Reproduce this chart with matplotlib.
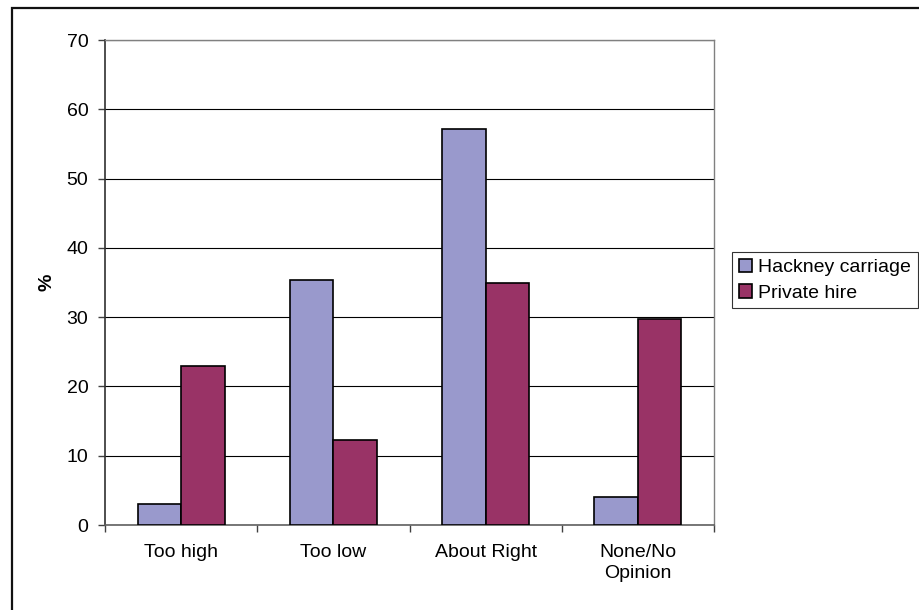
import matplotlib
matplotlib.use("Agg")
import matplotlib.pyplot as plt
import numpy as np
from matplotlib.patches import Rectangle

categories = ["Too high", "Too low", "About Right", "None/No\nOpinion"]
hackney = [3.1, 35.4, 57.2, 4.0]
private_hire = [22.9, 12.3, 34.9, 29.8]
series_names = ["Hackney carriage", "Private hire"]
y_ticks = [0, 10, 20, 30, 40, 50, 60, 70]

plt.rcParams["font.family"] = ["Liberation Sans", "DejaVu Sans"]

fig = plt.figure(figsize=(9.19, 6.10), dpi=100)
fig.patch.set_facecolor("white")

# outer chart border (left and top edges visible)
fig.add_artist(Rectangle((12 / 919, -0.05), 1.2, 1 - 8 / 610 + 0.05,
                         transform=fig.transFigure, fill=False,
                         edgecolor="#111111", linewidth=1.6))

ax = fig.add_axes([105 / 919, 85 / 610, 609 / 919, 485 / 610])

x = np.arange(len(categories))
w = 0.285
ax.bar(x - w / 2, hackney, w, color="#9999CC", edgecolor="black",
       linewidth=1.2, label=series_names[0], zorder=3)
ax.bar(x + w / 2, private_hire, w, color="#993366", edgecolor="black",
       linewidth=1.2, label=series_names[1], zorder=3)

ax.set_xlim(-0.5, len(categories) - 0.5)
ax.set_ylim(0, 70)
ax.set_yticks(y_ticks)
ax.set_yticklabels([str(v) for v in y_ticks], fontsize=14)
ax.yaxis.grid(True, color="black", linewidth=0.8, zorder=0)
ax.set_axisbelow(True)

# category labels centered, tick marks at category boundaries
ax.set_xticks(x)
ax.set_xticklabels(categories, fontsize=14, linespacing=1.25)
ax.tick_params(axis="x", which="major", length=0, pad=14)
ax.set_xticks(np.arange(-0.5, len(categories)), minor=True)
ax.tick_params(axis="x", which="minor", length=5, width=1.0, color="#404040",
               direction="out")
ax.tick_params(axis="y", length=5, width=1.0, color="#404040", pad=7,
               direction="out")

for side in ["top", "right"]:
    ax.spines[side].set_color("#808080")
    ax.spines[side].set_linewidth(1.0)
ax.spines["bottom"].set_color("#606060")
ax.spines["bottom"].set_linewidth(1.2)
ax.spines["left"].set_color("#303030")
ax.spines["left"].set_linewidth(1.2)

ax.set_ylabel("%", fontsize=14, fontweight="bold", labelpad=8)

leg = ax.legend(loc="center left", bbox_to_anchor=(732 / 919, 1 - 280 / 610),
                bbox_transform=fig.transFigure, fontsize=14, frameon=True,
                fancybox=False, edgecolor="black", handlelength=0.7,
                handleheight=0.7, handletextpad=0.3, borderpad=0.35,
                labelspacing=0.4, borderaxespad=0)
leg.get_frame().set_linewidth(0.8)

fig.savefig("out.png", dpi=100, facecolor="white")
